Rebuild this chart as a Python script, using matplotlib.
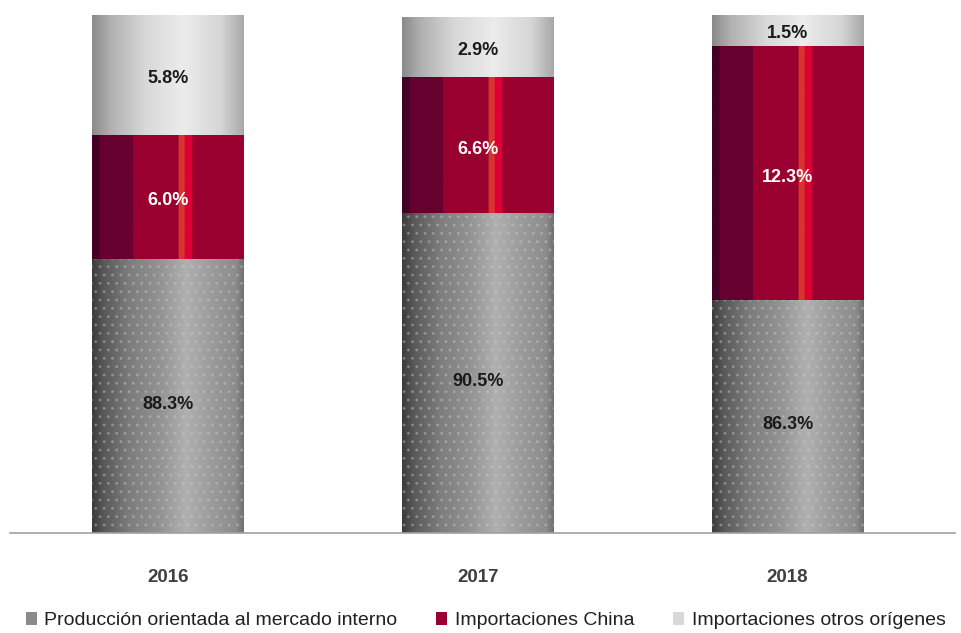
import numpy as np
import matplotlib
matplotlib.use('Agg')
import matplotlib.pyplot as plt
from matplotlib.patches import Patch

plt.rcParams['font.family'] = ['Liberation Sans', 'DejaVu Sans']
plt.rcParams['hatch.linewidth'] = 1.0

# Data (share of apparent consumption, %)
years = ['2016', '2017', '2018']
produccion = [88.3, 90.5, 86.3]
china = [6.0, 6.6, 12.3]
otros = [5.8, 2.9, 1.5]
series_names = ['Producción orientada al mercado interno',
                'Importaciones China',
                'Importaciones otros orígenes']


def hex_rgb(h):
    h = h.lstrip('#')
    return [int(h[i:i + 2], 16) / 255 for i in (0, 2, 4)]


def smooth_grad(stops, n=200):
    pos = [s[0] for s in stops]
    cols = np.array([hex_rgb(s[1]) for s in stops])
    x = np.linspace(0, 1, n)
    arr = np.stack([np.interp(x, pos, cols[:, k]) for k in range(3)], axis=-1)
    return arr[np.newaxis, :, :]


def step_grad(steps, n=200):
    x = np.linspace(0, 1, n)
    arr = np.zeros((n, 3))
    for i, xv in enumerate(x):
        for edge, col in steps:
            if xv <= edge:
                arr[i] = hex_rgb(col)
                break
    return arr[np.newaxis, :, :]


grad_gray = smooth_grad([(0, '#3c3c3c'), (0.08, '#5a5a5a'), (0.25, '#7d7d7d'),
                         (0.45, '#939393'), (0.62, '#b0b0b0'), (0.8, '#9a9a9a'),
                         (0.95, '#8c8c8c'), (1, '#707070')])
grad_light = smooth_grad([(0, '#8a8a8a'), (0.12, '#b0b0b0'), (0.35, '#d8d8d8'),
                          (0.6, '#ececec'), (0.85, '#d6d6d6'), (1, '#a8a8a8')])
grad_red = step_grad([(0.05, '#420027'), (0.27, '#66002f'), (0.57, '#990030'),
                      (0.61, '#d8342f'), (0.66, '#dc0034'), (1.0, '#990030')])

fig = plt.figure(figsize=(9.62, 6.33), dpi=100)
ax = fig.add_axes([0.0104, 0.158, 0.9823, 0.818])

x = np.arange(len(years))
width = 0.49
ymin = 75

bottom_prod = [ymin] * len(years)
h_prod = [p - ymin for p in produccion]
b1 = ax.bar(x, h_prod, width, bottom=bottom_prod, color='none', linewidth=0)
b2 = ax.bar(x, china, width, bottom=produccion, color='none', linewidth=0)
bottom_otros = [p + c for p, c in zip(produccion, china)]
b3 = ax.bar(x, otros, width, bottom=bottom_otros, color='none', linewidth=0)

for bars, grad in [(b1, grad_gray), (b2, grad_red), (b3, grad_light)]:
    for bar in bars:
        x0, y0 = bar.get_x(), bar.get_y()
        ext = (x0, x0 + bar.get_width(), y0, y0 + bar.get_height())
        im = ax.imshow(grad, extent=ext, aspect='auto', interpolation='bilinear', zorder=1)
        im.set_clip_path(bar)

# dotted texture on production bars
ax.bar(x, h_prod, width, bottom=bottom_prod, color='none', edgecolor='#d0d0d0',
       hatch='..', linewidth=0, zorder=2, alpha=0.3)

# value labels
lab_kw = dict(ha='center', va='center', fontsize=13, fontweight='bold', zorder=5)
for i in range(len(years)):
    ax.text(x[i], (ymin + produccion[i]) / 2 - 0.4, f'{produccion[i]:.1f}%',
            color='#1a1a1a', **lab_kw)
    ax.text(x[i], produccion[i] + china[i] / 2 - 0.2, f'{china[i]:.1f}%',
            color='white', **lab_kw)
    ax.text(x[i], bottom_otros[i] + otros[i] / 2 - 0.15, f'{otros[i]:.1f}%',
            color='#1a1a1a', **lab_kw)

ax.set_xlim(-0.51, 2.54)
ax.set_ylim(ymin, 100.1)
ax.set_xticks(x)
ax.set_xticklabels(years, fontsize=13.5, fontweight='bold', color='#404040')
ax.tick_params(axis='x', length=0, pad=26)
ax.set_yticks([])
for s in ['top', 'right', 'left']:
    ax.spines[s].set_visible(False)
ax.spines['bottom'].set_color('#a0a0a0')
ax.spines['bottom'].set_linewidth(1.2)

handles = [Patch(facecolor='#8a8a8a', edgecolor='none'),
           Patch(facecolor='#990030', edgecolor='none'),
           Patch(facecolor='#d8d8d8', edgecolor='none')]
fig.legend(handles, series_names, loc='lower center', bbox_to_anchor=(0.505, -0.022),
           ncol=3, frameon=False, fontsize=14, handlelength=0.55, handleheight=0.7,
           handletextpad=0.4, columnspacing=2.0, labelcolor='#202020')

fig.savefig('out.png', dpi=100)
